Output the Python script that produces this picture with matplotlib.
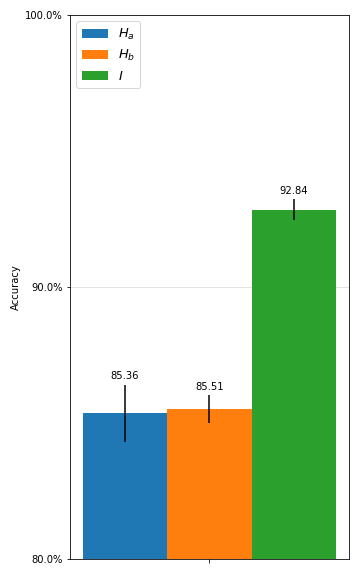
import matplotlib.pyplot as plt
from matplotlib.ticker import PercentFormatter

labels = ['$H_a$', '$H_b$', '$I$']
acc = [85.36, 85.51, 92.84]
err = [1.05, 0.51, 0.39]
colors = ['#1f77b4', '#ff7f0e', '#2ca02c']

fig = plt.figure(figsize=(5, 8), dpi=72)
ax = fig.add_axes([0.194, 0.0295, 0.775, 0.9445])

width = 0.25
for i, (lab, v, e, c) in enumerate(zip(labels, acc, err, colors)):
    x = (i - 1) * width
    ax.bar(x, v, width, yerr=e, color=c, label=lab, ecolor='black',
           error_kw={'elinewidth': 1.5})
    ax.text(x, v + e + 0.12, f'{v:.2f}', ha='center', va='bottom', fontsize=10)

ax.set_ylim(80, 100)
ax.set_yticks([80, 90, 100])
ax.yaxis.set_major_formatter(PercentFormatter(decimals=1))
ax.set_xticks([0])
ax.set_xticklabels([''])
ax.set_ylabel('Accuracy', fontsize=10)
ax.tick_params(labelsize=10)
ax.grid(axis='y', color='#dddddd', linewidth=0.8)
ax.set_axisbelow(True)
ax.legend(loc='upper left', fontsize=13)

fig.savefig('out.png', dpi=72)
